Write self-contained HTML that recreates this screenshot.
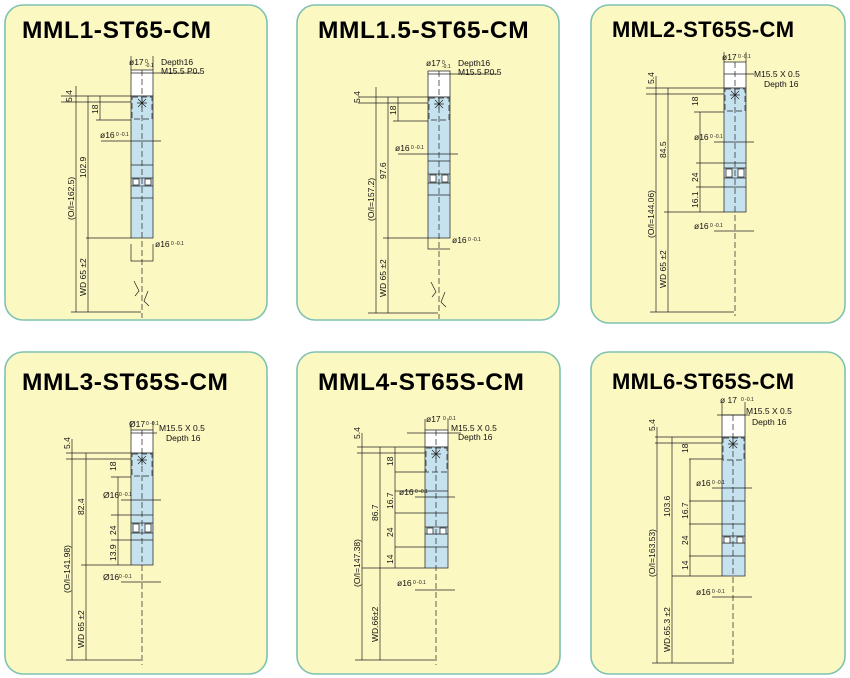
<!DOCTYPE html>
<html><head><meta charset="utf-8"><style>
body{margin:0;background:#fff;width:850px;height:678px;overflow:hidden}
svg{display:block}
.p{fill:#fcf8c2;stroke:#7fc2b2;stroke-width:1.6}
.h{font:bold 24.5px "Liberation Sans",sans-serif;fill:#000;letter-spacing:.6px}
.h2{font:bold 22px "Liberation Sans",sans-serif;fill:#000;letter-spacing:.3px}
.l{stroke:#222;stroke-width:.7;fill:none}
.d{stroke:#222;stroke-width:.7;fill:none;stroke-dasharray:6 3}
.b{fill:#c6e2ef;stroke:#333;stroke-width:.8}
.w{fill:#fff;stroke:#333;stroke-width:.8}
.t{font:8.5px "Liberation Sans",sans-serif;fill:#111}
.s{font:5px "Liberation Sans",sans-serif;fill:#111}
</style></head><body>
<svg width="850" height="678" viewBox="0 0 850 678">
<rect class="p" x="5" y="5" width="262" height="315" rx="18"/>
<rect class="p" x="297" y="5" width="262" height="315" rx="18"/>
<rect class="p" x="591" y="5" width="254" height="318" rx="18"/>
<rect class="p" x="5" y="352" width="262" height="322" rx="18"/>
<rect class="p" x="297" y="352" width="263" height="322" rx="18"/>
<rect class="p" x="591" y="352" width="254" height="322" rx="18"/>
<text class="h" x="22" y="38">MML1-ST65-CM</text>
<text class="h" x="318" y="38">MML1.5-ST65-CM</text>
<text class="h2" x="612" y="37">MML2-ST65S-CM</text>
<text class="h" x="22" y="390">MML3-ST65S-CM</text>
<text class="h" x="318" y="390">MML4-ST65S-CM</text>
<text class="h2" x="612" y="389">MML6-ST65S-CM</text>

<!-- P1 -->
<g transform="translate(131,96)">
<rect class="w" x="0" y="-26" width="22" height="26"/>
<rect class="b" x="0" y="0" width="22" height="142"/>
<rect class="d" x="1" y="1" width="20" height="22"/>
<path class="l" d="M0 69H22M0 82H22M0 90H22M0 102H22"/>
<rect class="w" x="2" y="83" width="6" height="6"/><rect class="w" x="14" y="83" width="6" height="6"/>
<path class="d" d="M11 -26V222"/>
<path class="l" d="M7 3L15 11M15 3L7 11M11 2V12M6 7H16"/>
<path class="l" d="M0 -23H70M-70 0H0M-70 6H0M-35 24H0M-45 142H0M-60 216H10M-55 -10V216M-43 0V216M-31 0V24M-30 45H30M0 148V165H22V148M0 -26V-40M22 -26V-40"/>
<path class="l" d="M3 185L8 195L4 200M17 195L13 205L18 210"/>
<text class="t" x="-2" y="-31">ø17</text><text class="s" x="14" y="-33">0</text><text class="s" x="14" y="-29">-0.1</text>
<text class="t" x="30" y="-31">Depth16</text><text class="t" x="30" y="-22">M15.5 P0.5</text>
<text class="t" x="-31" y="42">ø16</text><text class="s" x="-15" y="40">0 -0.1</text>
<text class="t" x="24" y="151">ø16</text><text class="s" x="40" y="149">0 -0.1</text>
<g class="t"><text transform="translate(-59,6) rotate(-90)">5.4</text><text transform="translate(-33,18) rotate(-90)">18</text><text transform="translate(-45,82) rotate(-90)">102.9</text><text transform="translate(-57,124) rotate(-90)">(O/I=162.5)</text><text transform="translate(-45,200) rotate(-90)">WD 65 ±2</text></g>
</g>

<!-- P2 -->
<g transform="translate(428,97)">
<rect class="w" x="0" y="-26" width="22" height="26"/>
<rect class="b" x="0" y="0" width="22" height="141"/>
<rect class="d" x="1" y="1" width="20" height="22"/>
<path class="l" d="M0 64H22M0 77H22M0 86H22M0 98H22"/>
<rect class="w" x="2" y="78" width="6" height="7"/><rect class="w" x="14" y="78" width="6" height="7"/>
<path class="d" d="M11 -26V222"/>
<path class="l" d="M7 3L15 11M15 3L7 11M11 2V12M6 7H16"/>
<path class="l" d="M0 -23H70M-70 0H0M-70 6H0M-35 24H0M-45 141H0M-60 216H10M-52 -10V216M-40 0V216M-30 0V24M-30 57H30M0 141V152H22"/>
<path class="l" d="M3 185L8 195L4 200M17 195L13 205L18 210"/>
<text class="t" x="-2" y="-31">ø17</text><text class="s" x="14" y="-33">0</text><text class="s" x="14" y="-29">-0.1</text>
<text class="t" x="30" y="-31">Depth16</text><text class="t" x="30" y="-22">M15.5 P0.5</text>
<text class="t" x="-33" y="54">ø16</text><text class="s" x="-17" y="52">0 -0.1</text>
<text class="t" x="24" y="146">ø16</text><text class="s" x="40" y="144">0 -0.1</text>
<g class="t"><text transform="translate(-68,6) rotate(-90)">5.4</text><text transform="translate(-32,18) rotate(-90)">18</text><text transform="translate(-42,82) rotate(-90)">97.6</text><text transform="translate(-54,124) rotate(-90)">(O/I=157.2)</text><text transform="translate(-42,200) rotate(-90)">WD 65 ±2</text></g>
</g>

<!-- P3 -->
<g transform="translate(724,88)">
<rect class="w" x="0" y="-26" width="22" height="26"/>
<rect class="b" x="0" y="0" width="22" height="124"/>
<rect class="d" x="1" y="1" width="20" height="22"/>
<path class="l" d="M0 75H22M0 80H22M0 90H22M0 99H22"/>
<rect class="w" x="2" y="81" width="6" height="8"/><rect class="w" x="14" y="81" width="6" height="8"/>
<path class="d" d="M11 -26V228"/>
<path class="l" d="M7 3L15 11M15 3L7 11M11 2V12M6 7H16"/>
<path class="l" d="M0 -14H30M-78 0H0M-78 6H0M-30 24H0M-28 75H0M-28 99H0M-60 124H0M-74 224H10M-68 -12V224M-56 0V224M-24 24V124M-10 54H30M-10 143H30M0 -26V-36M22 -26V-36"/>
<text class="t" x="-2" y="-28">ø17</text><text class="s" x="14" y="-30">0 -0.1</text>
<text class="t" x="30" y="-11">M15.5 X 0.5</text><text class="t" x="40" y="-1">Depth 16</text>
<text class="t" x="-30" y="52">ø16</text><text class="s" x="-14" y="50">0 -0.1</text>
<text class="t" x="-30" y="141">ø16</text><text class="s" x="-14" y="139">0 -0.1</text>
<g class="t"><text transform="translate(-70,-4) rotate(-90)">5.4</text><text transform="translate(-26,18) rotate(-90)">18</text><text transform="translate(-26,94) rotate(-90)">24</text><text transform="translate(-26,120) rotate(-90)">16.1</text><text transform="translate(-58,70) rotate(-90)">84.5</text><text transform="translate(-70,150) rotate(-90)">(O/I=144.06)</text><text transform="translate(-58,200) rotate(-90)">WD 65 ±2</text></g>
</g>

<!-- P4 -->
<g transform="translate(131,453)">
<rect class="w" x="0" y="-23" width="22" height="23"/>
<rect class="b" x="0" y="0" width="22" height="112"/>
<rect class="d" x="1" y="1" width="20" height="22"/>
<path class="l" d="M0 62H22M0 70H22M0 80H22M0 87H22"/>
<rect class="w" x="2" y="71" width="6" height="8"/><rect class="w" x="14" y="71" width="6" height="8"/>
<path class="d" d="M11 -23V212"/>
<path class="l" d="M7 3L15 11M15 3L7 11M11 2V12M6 7H16"/>
<path class="l" d="M0 -20H26M-65 0H0M-65 6H0M-20 24H0M-20 62H0M-20 87H0M-50 112H0M-65 207H10M-59 -14V207M-45 0V207M-13 24V112M-10 47H30M-10 129H30M0 -23V-32M22 -23V-32"/>
<text class="t" x="-2" y="-26">Ø17</text><text class="s" x="15" y="-28">0 -0.1</text>
<text class="t" x="28" y="-22">M15.5 X 0.5</text><text class="t" x="35" y="-12">Depth 16</text>
<text class="t" x="-28" y="45">Ø16</text><text class="s" x="-12" y="43">0 -0.1</text>
<text class="t" x="-28" y="127">Ø16</text><text class="s" x="-12" y="125">0 -0.1</text>
<g class="t"><text transform="translate(-61,-4) rotate(-90)">5.4</text><text transform="translate(-15,18) rotate(-90)">18</text><text transform="translate(-15,82) rotate(-90)">24</text><text transform="translate(-15,108) rotate(-90)">13.9</text><text transform="translate(-47,62) rotate(-90)">82.4</text><text transform="translate(-61,140) rotate(-90)">(O/I=141.98)</text><text transform="translate(-47,195) rotate(-90)">WD 65 ±2</text></g>
</g>

<!-- P5 -->
<g transform="translate(425,447)">
<rect class="w" x="0" y="-17" width="23" height="17"/>
<rect class="b" x="0" y="0" width="23" height="121"/>
<rect class="d" x="1" y="1" width="21" height="24"/>
<path class="l" d="M0 44H23M0 66H23M0 80H23M0 87H23M0 100H23"/>
<rect class="w" x="2" y="81" width="6" height="6"/><rect class="w" x="15" y="81" width="6" height="6"/>
<path class="d" d="M11 -17V218"/>
<path class="l" d="M7 3L15 11M15 3L7 11M11 2V12M6 7H16"/>
<path class="l" d="M-18 -14H36M-68 0H0M-68 6H0M-30 25H0M-30 44H0M-30 66H0M-30 100H0M-63 121H0M-70 213H10M-63 -14V213M-45 0V213M-30 0V121M-10 50H30M-10 143H30M0 -17V-28M23 -17V-28"/>
<text class="t" x="1" y="-25">ø17</text><text class="s" x="18" y="-27">0 -0.1</text>
<text class="t" x="26" y="-16">M15.5 X 0.5</text><text class="t" x="33" y="-7">Depth 16</text>
<text class="t" x="-26" y="48">ø16</text><text class="s" x="-10" y="46">0 -0.1</text>
<text class="t" x="-28" y="139">ø16</text><text class="s" x="-12" y="137">0 -0.1</text>
<g class="t"><text transform="translate(-65,-8) rotate(-90)">5.4</text><text transform="translate(-32,19) rotate(-90)">18</text><text transform="translate(-32,62) rotate(-90)">16.7</text><text transform="translate(-32,90) rotate(-90)">24</text><text transform="translate(-32,117) rotate(-90)">14</text><text transform="translate(-47,74) rotate(-90)">86.7</text><text transform="translate(-65,140) rotate(-90)">(O/I=147.38)</text><text transform="translate(-47,195) rotate(-90)">WD.66±2</text></g>
</g>

<!-- P6 -->
<g transform="translate(722,437)">
<rect class="w" x="0" y="-22" width="23" height="22"/>
<rect class="b" x="0" y="0" width="23" height="139"/>
<rect class="d" x="1" y="1" width="21" height="22"/>
<path class="l" d="M0 64H23M0 87H23M0 99H23M0 106H23M0 119H23"/>
<rect class="w" x="2" y="100" width="6" height="6"/><rect class="w" x="15" y="100" width="6" height="6"/>
<path class="d" d="M11 -22V230"/>
<path class="l" d="M7 3L15 11M15 3L7 11M11 2V12M6 7H16"/>
<path class="l" d="M-5 -22H28M-67 0H0M-67 6H0M-33 22H0M-33 64H0M-33 87H0M-33 119H0M-50 139H0M-70 226H10M-65 -10V226M-50 0V226M-32 22V139M-10 51H30M-10 160H30M0 -22V-35M23 -22V-35"/>
<text class="t" x="-2" y="-34">ø 17</text><text class="s" x="19" y="-36">0 -0.1</text>
<text class="t" x="24" y="-23">M15.5 X 0.5</text><text class="t" x="30" y="-12">Depth 16</text>
<text class="t" x="-26" y="49">ø16</text><text class="s" x="-10" y="47">0 -0.1</text>
<text class="t" x="-26" y="158">ø16</text><text class="s" x="-10" y="156">0 -0.1</text>
<g class="t"><text transform="translate(-67,-6) rotate(-90)">5.4</text><text transform="translate(-34,16) rotate(-90)">18</text><text transform="translate(-34,82) rotate(-90)">16.7</text><text transform="translate(-34,108) rotate(-90)">24</text><text transform="translate(-34,133) rotate(-90)">14</text><text transform="translate(-52,80) rotate(-90)">103.6</text><text transform="translate(-67,140) rotate(-90)">(O/I=163.53)</text><text transform="translate(-52,215) rotate(-90)">WD.65.3 ±2</text></g>
</g>
</svg>
</body></html>
